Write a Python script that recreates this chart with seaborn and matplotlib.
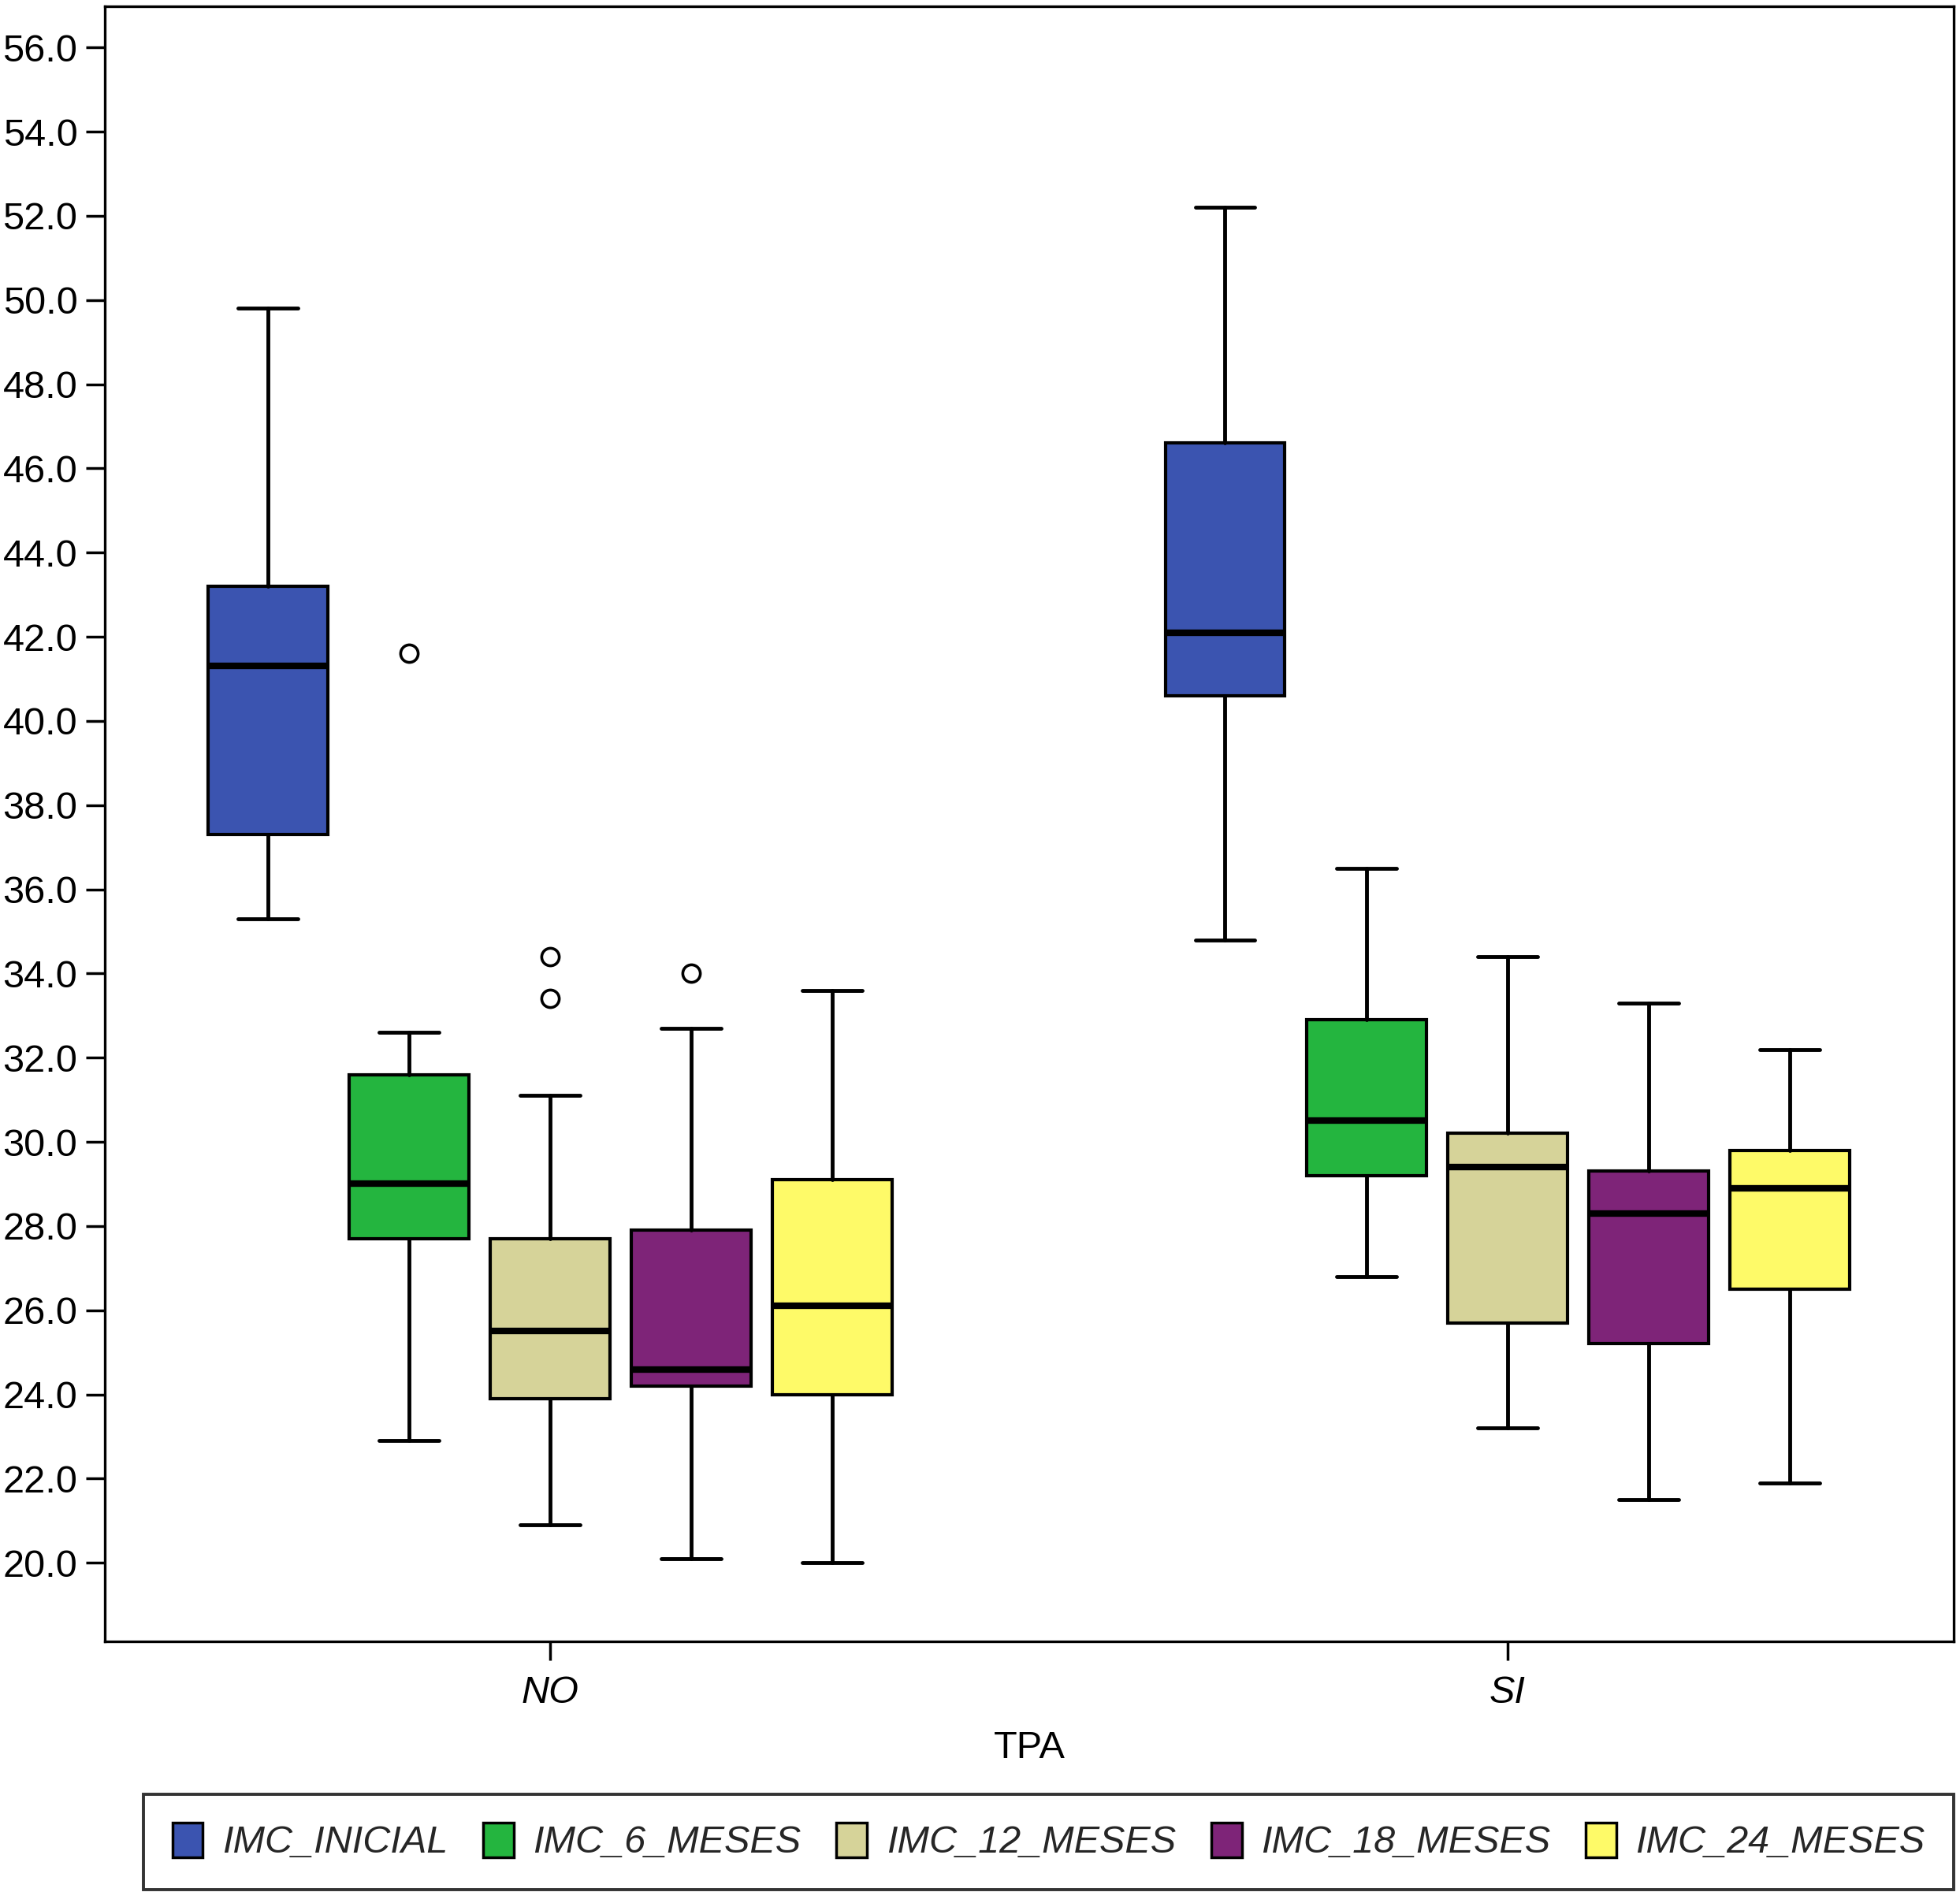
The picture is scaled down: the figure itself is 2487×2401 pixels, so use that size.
import numpy as np
import seaborn as sns
import matplotlib.pyplot as plt
from matplotlib.patches import Patch

# =============================================================================
# Data
# =============================================================================

groups = ['NO', 'SI']
series = ['IMC_INICIAL', 'IMC_6_MESES', 'IMC_12_MESES', 'IMC_18_MESES', 'IMC_24_MESES']
colors = ['#3B54B0', '#24B53F', '#D6D399', '#7E2478', '#FEFA68']

# TPA = NO
no_whislo = [35.3, 22.9, 20.9, 20.1, 20.0]
no_q1 = [37.3, 27.7, 23.9, 24.2, 24.0]
no_med = [41.3, 29.0, 25.5, 24.6, 26.1]
no_q3 = [43.2, 31.6, 27.7, 27.9, 29.1]
no_whishi = [49.8, 32.6, 31.1, 32.7, 33.6]
no_fliers = [[], [41.6], [34.4, 33.4], [34.0], []]

# TPA = SI
si_whislo = [34.8, 26.8, 23.2, 21.5, 21.9]
si_q1 = [40.6, 29.2, 25.7, 25.2, 26.5]
si_med = [42.1, 30.5, 29.4, 28.3, 28.9]
si_q3 = [46.6, 32.9, 30.2, 29.3, 29.8]
si_whishi = [52.2, 36.5, 34.4, 33.3, 32.2]
si_fliers = [[], [], [], [], []]

yticks = np.arange(20, 57, 2)

# =============================================================================
# Plot
# =============================================================================

sns.set_theme(style="ticks")
plt.rcParams['font.family'] = ['Liberation Sans', 'DejaVu Sans']

fig = plt.figure(figsize=(24.87, 24.01), dpi=100)
ax = fig.add_axes([0.0535, 0.1324, 0.9433, 0.8643])

step = 0.1475
offsets = (np.arange(len(series)) - 2) * step

group_stats = [
    (no_whislo, no_q1, no_med, no_q3, no_whishi, no_fliers),
    (si_whislo, si_q1, si_med, si_q3, si_whishi, si_fliers),
]

for g, (lo, q1, med, q3, hi, fl) in enumerate(group_stats):
    for i in range(len(series)):
        stats = [dict(whislo=lo[i], q1=q1[i], med=med[i], q3=q3[i],
                      whishi=hi[i], fliers=fl[i])]
        ax.bxp(
            stats,
            positions=[g + offsets[i]],
            widths=0.125,
            capwidths=0.0625,
            patch_artist=True,
            showfliers=True,
            boxprops=dict(facecolor=colors[i], edgecolor='black', linewidth=3),
            medianprops=dict(color='black', linewidth=6),
            whiskerprops=dict(color='black', linewidth=3.5),
            capprops=dict(color='black', linewidth=3.5),
            flierprops=dict(marker='o', markerfacecolor='white',
                            markeredgecolor='black', markersize=16,
                            markeredgewidth=2.6),
        )

ax.set_xlim(-0.465, 1.466)
ax.set_ylim(18.13, 56.98)
ax.set_yticks(yticks)
ax.set_yticklabels([f'{v:.1f}' for v in yticks])
ax.set_xticks(range(len(groups)))
ax.set_xticklabels(groups, fontstyle='italic')

ax.tick_params(axis='both', direction='out', length=17, width=2.5,
               color='black', labelsize=35, labelcolor='black')
ax.tick_params(axis='y', pad=8)
ax.tick_params(axis='x', pad=14)
ax.set_xlabel('TPA', fontsize=35, color='black', labelpad=18)

for side in ['top', 'right', 'bottom', 'left']:
    ax.spines[side].set_visible(True)
    ax.spines[side].set_color('black')
    ax.spines[side].set_linewidth(2.4)

handles = [Patch(facecolor=c, edgecolor='black', linewidth=2.5, label=s)
           for c, s in zip(colors, series)]
leg = fig.legend(
    handles=handles,
    loc='lower left',
    bbox_to_anchor=(0.0732, 0.0013, 0.9236, 0.0474),
    mode='expand',
    ncol=5,
    prop=dict(style='italic', size=35),
    handlelength=0.8,
    handleheight=1.0,
    handletextpad=0.5,
    columnspacing=0.6,
    borderpad=0.75,
    borderaxespad=0,
    frameon=True,
    fancybox=False,
    edgecolor='black',
)
leg.get_frame().set_linewidth(2.8)

fig.savefig('out.png', dpi=100)
